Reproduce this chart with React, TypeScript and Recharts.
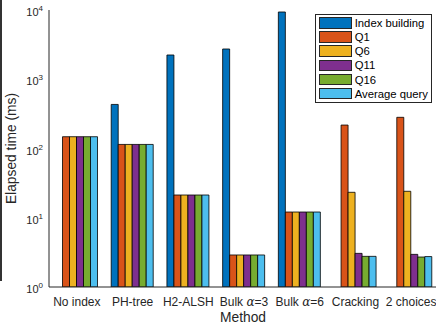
import { BarChart, Bar, XAxis, YAxis, Legend } from "recharts";

const categories = ["No index", "PH-tree", "H2-ALSH", "Bulk  α=3", "Bulk  α=6", "Cracking", "2 choices"];

const indexBuilding = [null, 433, 2240, 2735, 9360, null, null];
const q1 = [148, 114.5, 21.3, 2.9, 12.1, 218, 282];
const q6 = [148, 114.5, 21.3, 2.9, 12.1, 23.3, 24.1];
const q11 = [148, 114.5, 21.3, 2.9, 12.1, 3.06, 2.96];
const q16 = [148, 114.5, 21.3, 2.9, 12.1, 2.77, 2.71];
const avgQuery = [148, 114.5, 21.3, 2.9, 12.1, 2.77, 2.75];

const seriesKeys = ["ib", "q1", "q6", "q11", "q16", "avg"];
const seriesNames = ["Index building", "Q1", "Q6", "Q11", "Q16", "Average query"];
const seriesColors = ["#0072BD", "#D95319", "#EDB120", "#7E2F8E", "#77AC30", "#4DBEEE"];
const seriesValues = [indexBuilding, q1, q6, q11, q16, avgQuery];

const yTicks = [1, 10, 100, 1000, 10000];
const yMinorTicks = [
  2, 3, 4, 5, 6, 7, 8, 9,
  20, 30, 40, 50, 60, 70, 80, 90,
  200, 300, 400, 500, 600, 700, 800, 900,
  2000, 3000, 4000, 5000, 6000, 7000, 8000, 9000,
];

const data = categories.map((name, i) => {
  const row: Record<string, string | number | null> = { name };
  seriesKeys.forEach((k, s) => {
    row[k] = seriesValues[s][i];
  });
  return row;
});

const FONT = "'Liberation Sans', Arial, Helvetica, sans-serif";
const AXIS = "#262626";
const PLOT_LEFT = 49;

function PowerTick({ x, y, payload }: any) {
  const exp = Math.round(Math.log10(payload.value));
  return (
    <text x={x - 6} y={y + 6} textAnchor="end" fontSize={11} fill={AXIS} fontFamily={FONT}>
      10
      <tspan dy={-5} fontSize={8}>
        {exp}
      </tspan>
    </text>
  );
}

// inward ticks on both the left and right frame edges
function FrameTick({ x, y, payload }: any) {
  const len = yTicks.includes(payload.value) ? 5 : 3;
  return (
    <g stroke={AXIS} strokeWidth={0.8}>
      <line x1={PLOT_LEFT} x2={PLOT_LEFT + len} y1={y} y2={y} />
      <line x1={x - len} x2={x} y1={y} y2={y} />
    </g>
  );
}

function TopTick({ x, y }: any) {
  return <line x1={x} x2={x} y1={y} y2={y + 4} stroke={AXIS} strokeWidth={0.8} />;
}

function CategoryTick({ x, y, payload }: any) {
  const parts = String(payload.value).split("α");
  return (
    <text x={x} y={y + 18.5} textAnchor="middle" fontSize={12} fill={AXIS} fontFamily={FONT}>
      {parts[0]}
      {parts.length > 1 && (
        <>
          <tspan fontFamily="'DejaVu Serif', serif" fontStyle="italic">
            α
          </tspan>
          {parts[1]}
        </>
      )}
    </text>
  );
}

function MethodLabel({ viewBox }: any) {
  return (
    <text
      x={viewBox.x + viewBox.width / 2 - 1}
      y={viewBox.y + 34.5}
      textAnchor="middle"
      fontSize={13.8}
      fill={AXIS}
      fontFamily={FONT}
    >
      Method
    </text>
  );
}

function ElapsedLabel({ viewBox }: any) {
  const cy = viewBox.y + viewBox.height / 2;
  return (
    <text
      x={16}
      y={cy}
      transform={`rotate(-90, 16, ${cy})`}
      textAnchor="middle"
      fontSize={13.8}
      fill={AXIS}
      fontFamily={FONT}
    >
      Elapsed time (ms)
    </text>
  );
}

function LegendBox() {
  return (
    <div
      style={{
        width: 115.4,
        height: 86.6,
        paddingTop: 0.7,
        border: `1px solid ${AXIS}`,
        background: "#fff",
        fontFamily: FONT,
        fontSize: 11.3,
        color: "#000",
      }}
    >
      {seriesNames.map((n, s) => (
        <div key={n} style={{ display: "flex", alignItems: "center", height: 14.2, marginLeft: 3.3 }}>
          <span
            style={{
              display: "inline-block",
              width: 30.4,
              height: 9.5,
              background: seriesColors[s],
              border: `1px solid ${AXIS}`,
              marginRight: 3,
            }}
          />
          <span style={{ whiteSpace: "nowrap" }}>{n}</span>
        </div>
      ))}
    </div>
  );
}

export default function App() {
  return (
    <div style={{ position: "relative", width: 436, height: 327, overflow: "hidden", background: "#fff" }}>
      <style>{"body{margin:0}"}</style>
      <div style={{ position: "absolute", left: 0, top: 0, width: 1.5, height: 281, background: "#333" }} />
      <BarChart
        width={442}
        height={327}
        data={data}
        margin={{ top: 10, right: 3, bottom: 0, left: 0 }}
        barCategoryGap={6.5}
        barGap={0}
      >
        <XAxis
          xAxisId="main"
          dataKey="name"
          height={40}
          interval={0}
          tickSize={0}
          tickMargin={0}
          tickLine={false}
          axisLine={{ stroke: AXIS }}
          tick={<CategoryTick />}
          label={<MethodLabel />}
        />
        <XAxis
          xAxisId="top"
          dataKey="name"
          orientation="top"
          height={0}
          interval={0}
          tickSize={0}
          tickMargin={0}
          tickLine={false}
          axisLine={{ stroke: AXIS }}
          tick={<TopTick />}
        />
        <YAxis
          yAxisId="main"
          type="number"
          scale="log"
          domain={[1, 10000]}
          allowDataOverflow
          ticks={yTicks}
          interval={0}
          width={49}
          tickSize={0}
          tickMargin={0}
          tickLine={false}
          axisLine={{ stroke: AXIS }}
          tick={<PowerTick />}
          label={<ElapsedLabel />}
        />
        <YAxis
          yAxisId="frame"
          orientation="right"
          type="number"
          scale="log"
          domain={[1, 10000]}
          allowDataOverflow
          ticks={[...yTicks, ...yMinorTicks]}
          interval={0}
          width={0}
          tickSize={0}
          tickMargin={0}
          tickLine={false}
          axisLine={{ stroke: AXIS }}
          tick={<FrameTick />}
        />
        {seriesKeys.map((k, s) => (
          <Bar
            key={k}
            xAxisId="main"
            yAxisId="main"
            dataKey={k}
            name={seriesNames[s]}
            fill={seriesColors[s]}
            stroke="#000"
            strokeWidth={0.8}
            isAnimationActive={false}
          />
        ))}
        <Legend
          layout="horizontal"
          verticalAlign="middle"
          align="center"
          content={<LegendBox />}
          wrapperStyle={{ left: 315, top: 14, width: "auto", height: "auto" }}
        />
      </BarChart>
    </div>
  );
}
